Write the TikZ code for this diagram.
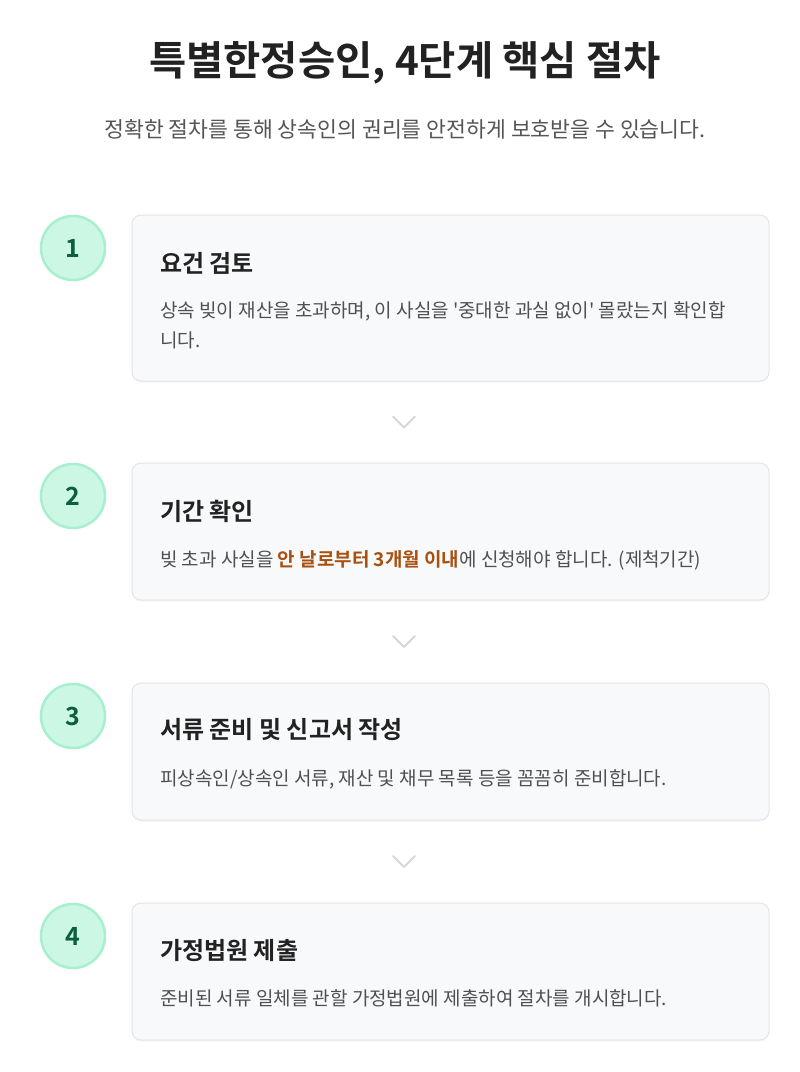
\documentclass[tikz,border=0pt]{standalone}
\usepackage{fontspec}
\setmainfont{Noto Sans CJK KR}[BoldFont={Noto Sans CJK KR Bold},Ligatures=TeXOff]
\usetikzlibrary{shadows,calc}
\definecolor{titlecol}{HTML}{222222}
\definecolor{subcol}{HTML}{555555}
\definecolor{bodycol}{HTML}{505050}
\definecolor{cardfill}{HTML}{F8F9FA}
\definecolor{cardline}{HTML}{E3E5E8}
\definecolor{mintfill}{HTML}{CDF7E5}
\definecolor{mintline}{HTML}{A8EFCF}
\definecolor{numcol}{HTML}{0B5E40}
\definecolor{chevcol}{HTML}{D4D6DA}
\definecolor{hilite}{HTML}{A8500F}
\tikzset{
  card/.style={draw=cardline, line width=1pt, fill=cardfill, rounded corners=9pt,
    minimum width=637pt, inner sep=0pt,
    drop shadow={opacity=0.08, shadow xshift=0pt, shadow yshift=-1.5pt}},
  stepnum/.style={circle, draw=mintline, line width=2.5pt, fill=mintfill,
    minimum size=64pt, inner sep=0pt, text=numcol,
    font=\fontsize{25}{27}\selectfont\bfseries},
  cardtitle/.style={anchor=west, inner sep=0pt, text=titlecol,
    font=\fontsize{24}{28}\selectfont\bfseries},
  cardbody/.style={anchor=north west, inner sep=0pt, text=bodycol, align=left,
    font=\fontsize{19}{30}\selectfont},
  chev/.style={draw=chevcol, line width=2pt, line cap=round, line join=round}
}
\begin{document}
\begin{tikzpicture}[x=1pt,y=-1pt]
\fill[white] (0,0) rectangle (800,1072);
\path[use as bounding box] (0,0) rectangle (800,1072);

\node[inner sep=0pt, text=titlecol, font=\fontsize{40.5}{46}\selectfont\bfseries] (title) at (405,63) {특별한정승인, 4단계 핵심 절차};
\node[inner sep=0pt, text=subcol, font=\fontsize{21.6}{26}\selectfont] (subtitle) at (405,129) {정확한 절차를 통해 상속인의 권리를 안전하게 보호받을 수 있습니다.};

% cards
\node[card, minimum height=166pt] (card1) at (450.5,298) {};
\node[card, minimum height=137pt] (card2) at (450.5,531.5) {};
\node[card, minimum height=137pt] (card3) at (450.5,751.5) {};
\node[card, minimum height=137pt] (card4) at (450.5,971.5) {};

% step circles
\node[stepnum] (n1) at (73,248) {1};
\node[stepnum] (n2) at (73,496) {2};
\node[stepnum] (n3) at (73,716) {3};
\node[stepnum] (n4) at (73,936) {4};

% texts
\node[cardtitle] (t1) at (160,263) {요건 검토};
\node[cardbody] (b1) at (160,301.5) {상속 빚이 재산을 초과하며, 이 사실을 '중대한 과실 없이' 몰랐는지 확인합\\니다.};
\node[cardtitle] (t2) at (160,511) {기간 확인};
\node[cardbody] (b2) at (160,550.5) {빚 초과 사실을 \textcolor{hilite}{\bfseries 안 날로부터 3개월 이내}에 신청해야 합니다. (제척기간)};
\node[cardtitle] (t3) at (160,730) {서류 준비 및 신고서 작성};
\node[cardbody] (b3) at (160,769.5) {피상속인/상속인 서류, 재산 및 채무 목록 등을 꼼꼼히 준비합니다.};
\node[cardtitle] (t4) at (160,950) {가정법원 제출};
\node[cardbody] (b4) at (160,989.5) {준비된 서류 일체를 관할 가정법원에 제출하여 절차를 개시합니다.};

% chevrons
\coordinate (c12) at ($(card1.south)!0.5!(card2.north)+(-46.5,0)$);
\coordinate (c23) at ($(card2.south)!0.5!(card3.north)+(-46.5,0)$);
\coordinate (c34) at ($(card3.south)!0.5!(card4.north)+(-46.5,0)$);
\foreach \c in {c12,c23,c34}{
  \draw[chev] ($(\c)+(-11,-5.5)$) -- ($(\c)+(0,5.5)$) -- ($(\c)+(11,-5.5)$);
}
\end{tikzpicture}
\end{document}
